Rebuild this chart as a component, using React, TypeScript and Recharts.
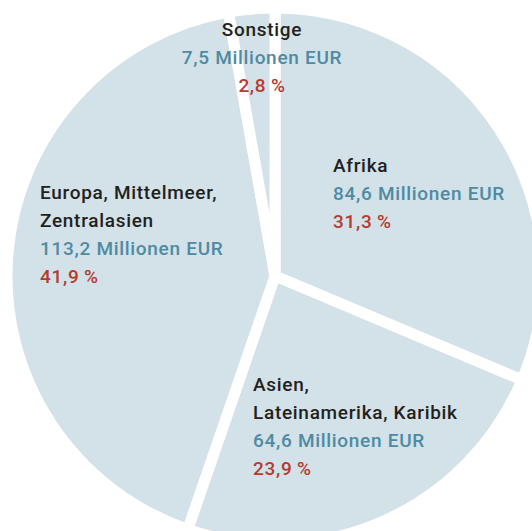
import { PieChart, Pie, Cell } from "recharts";

const regions = ["Afrika", "Asien, Lateinamerika, Karibik", "Europa, Mittelmeer, Zentralasien", "Sonstige"];
const regionLines = [["Afrika"], ["Asien,", "Lateinamerika, Karibik"], ["Europa, Mittelmeer,", "Zentralasien"], ["Sonstige"]];
const amounts = [84.6, 64.6, 113.2, 7.5];

const total = amounts.reduce((a, b) => a + b, 0);
const data = regions.map((name, i) => ({ name, value: amounts[i] }));

// where each text block sits (first baseline), and how it's anchored
const labelLayout = [
  { x: 333, y: 172, anchor: "start" },
  { x: 253, y: 391, anchor: "start" },
  { x: 40, y: 199, anchor: "start" },
  { x: 262, y: 36, anchor: "middle" },
];

const fmt = (n: number) => n.toFixed(1).replace(".", ",");

const txt = { fontSize: 19, fontWeight: 500, letterSpacing: 0.7 };

const renderLabel = (props: any) => {
  const i = props.index;
  const pos = labelLayout[i];
  const lines = regionLines[i];
  const lh = 28;
  return (
    <g key={"lbl" + i}>
      {lines.map((t, k) => (
        <text key={k} x={pos.x} y={pos.y + k * lh} textAnchor={pos.anchor} fill="#231f20" {...txt}>
          {t}
        </text>
      ))}
      <text x={pos.x} y={pos.y + lines.length * lh} textAnchor={pos.anchor} fill="#4e8ba2" {...txt}>
        {fmt(amounts[i])} Millionen EUR
      </text>
      <text x={pos.x} y={pos.y + (lines.length + 1) * lh} textAnchor={pos.anchor} fill="#b63a2f" {...txt}>
        {fmt((amounts[i] / total) * 100)}{"\u2009"}%
      </text>
    </g>
  );
};

export default function App() {
  return (
    <div style={{ position: "absolute", left: 0, top: 0, width: 532, height: 531, fontFamily: "Roboto, sans-serif" }}>
      <PieChart width={532} height={531} margin={{ top: 0, right: 0, bottom: 0, left: 0 }}>
        <Pie
          data={data}
          dataKey="value"
          nameKey="name"
          cx={275}
          cy={276}
          outerRadius={268}
          startAngle={90}
          endAngle={-270}
          stroke="#ffffff"
          strokeWidth={11}
          label={renderLabel}
          labelLine={false}
          isAnimationActive={false}
        >
          {data.map((d) => (
            <Cell key={d.name} fill="#d3e1e8" />
          ))}
        </Pie>
      </PieChart>
    </div>
  );
}
